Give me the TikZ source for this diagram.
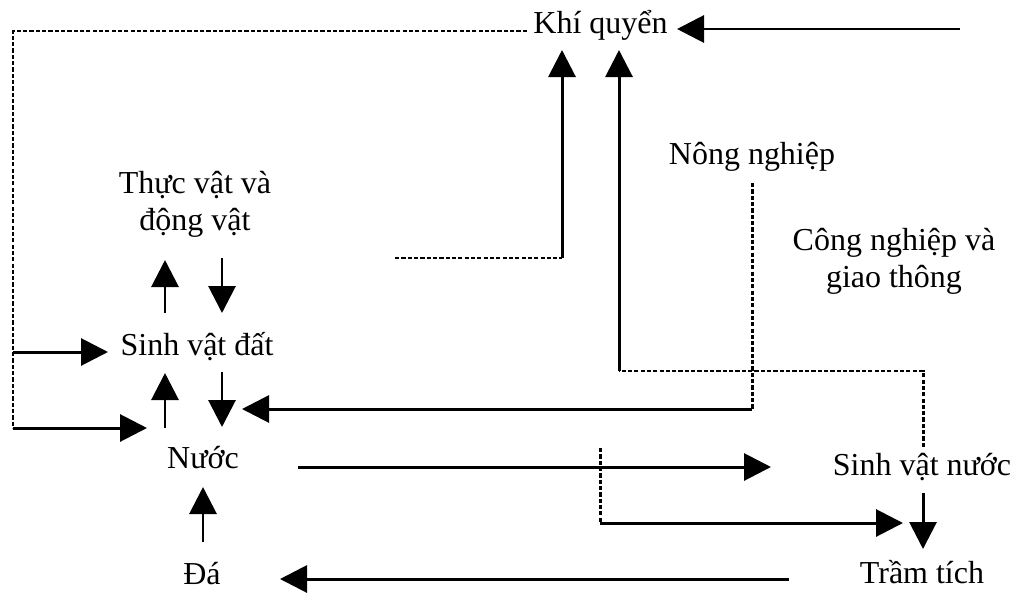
\documentclass[tikz,border=0pt]{standalone}
\usepackage{fontspec}
\setmainfont{Liberation Serif}
\usetikzlibrary{arrows.meta}

\begin{document}
\begin{tikzpicture}[
    lbl/.style={font=\fontsize{18.2}{21}\selectfont, inner sep=0pt, anchor=base},
    flow/.style={line width=1.7pt, -{Triangle[length=0.54cm, width=0.54cm]}},
    link/.style={line width=1.7pt, dash pattern=on 2.4pt off 1.2pt}
]
\useasboundingbox (0,0) rectangle (20.3,11.88);

% Compartments
\node[lbl] (khi) at (12.01,11.22) {Khí quyển};
\node[lbl, align=center] (thuc) at (3.90,7.28) {Thực vật và\\động vật};
\node[lbl] (datsv) at (3.94,4.78) {Sinh vật đất};
\node[lbl] (nuoc) at (4.06,2.52) {Nước};
\node[lbl] (da) at (4.04,0.20) {Đá};
\node[lbl] (nong) at (15.04,8.60) {Nông nghiệp};
\node[lbl, align=center] (cong) at (17.88,6.14) {Công nghiệp và\\giao thông};
\node[lbl] (nuocsv) at (18.44,2.38) {Sinh vật nước};
\node[lbl] (tram) at (18.44,0.22) {Trầm tích};

% Corner points
\coordinate (lefttop) at (0.26,11.26);
\coordinate (leftbot) at (0.26,3.32);
\coordinate (leftmid) at (0.26,4.84);
\coordinate (khiw) at (10.54,11.26);
\coordinate (nuocw) at (2.94,3.32);
\coordinate (datw) at (2.16,4.84);
\coordinate (upa) at (7.90,6.72);
\coordinate (upb) at (11.24,6.72);
\coordinate (upbtip) at (11.24,10.88);
\coordinate (svn) at (18.46,2.94);
\coordinate (svnc) at (18.46,4.46);
\coordinate (upc) at (12.38,4.46);
\coordinate (upctip) at (12.38,10.88);
\coordinate (nongs) at (15.04,8.22);
\coordinate (nongc) at (15.04,3.70);
\coordinate (nongtip) at (4.84,3.70);
\coordinate (ra) at (19.20,11.30);
\coordinate (ratip) at (13.54,11.30);
\coordinate (sa) at (12.00,2.92);
\coordinate (sb) at (12.00,1.42);
\coordinate (sbtip) at (18.06,1.42);

% Left loop from the atmosphere
\draw[link] (khiw) -- (lefttop) -- (leftbot);
\draw[flow] (leftbot) -- (nuocw);
\draw[flow] (leftmid) -- (datw);

% Soil column
\draw[flow] (3.30,5.62) -- (3.30,6.68);
\draw[flow] (4.44,6.72) -- (4.44,5.62);
\draw[flow] (3.30,3.32) -- (3.30,4.42);
\draw[flow] (4.44,4.44) -- (4.44,3.34);
\draw[flow] (4.06,1.04) -- (4.06,2.14);

% Agriculture to water
\draw[link] (nongs) -- (nongc);
\draw[flow] (nongc) -- (nongtip);

% Up into the atmosphere
\draw[link] (upa) -- (upb);
\draw[flow] (upb) -- (upbtip);
\draw[link] (svn) -- (svnc) -- (upc);
\draw[flow] (upc) -- (upctip);
\draw[flow] (ra) -- (ratip);

% Water side
\draw[flow] (5.96,2.54) -- (15.42,2.54);
\draw[link] (sa) -- (sb);
\draw[flow] (sb) -- (sbtip);
\draw[flow] (18.46,2.02) -- (18.46,0.90);
\draw[flow] (15.78,0.30) -- (5.60,0.30);
\end{tikzpicture}
\end{document}
